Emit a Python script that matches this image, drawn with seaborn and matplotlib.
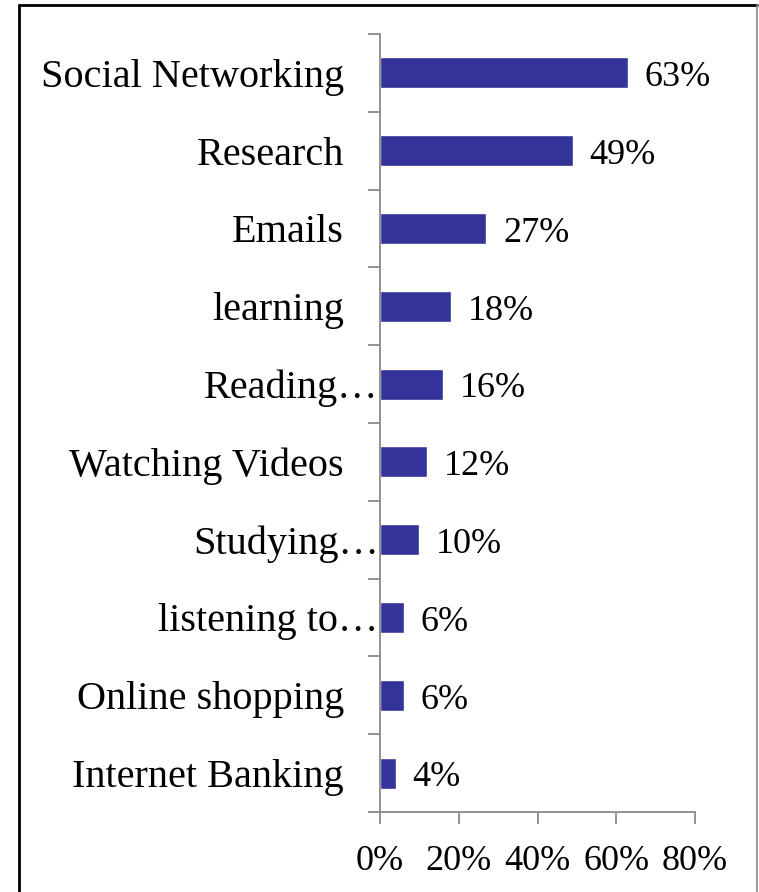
import matplotlib
matplotlib.use('Agg')
import matplotlib.pyplot as plt
import matplotlib.transforms as mtransforms
from matplotlib.lines import Line2D
from matplotlib.ticker import FuncFormatter
import numpy as np
import pandas as pd
import seaborn as sns

categories = ['Social Networking', 'Research', 'Emails', 'learning', 'Reading\u2026',
              'Watching Videos', 'Studying\u2026', 'listening to\u2026', 'Online shopping',
              'Internet Banking']
values = [63, 49, 27, 18, 16, 12, 10, 6, 6, 4]
xticks = [0, 20, 40, 60, 80]

df = pd.DataFrame({'activity': categories, 'share': values})

sns.set_style('white')
plt.rcParams['font.family'] = ['Liberation Serif', 'DejaVu Serif']
plt.rcParams['text.color'] = 'black'
plt.rcParams['xtick.labelcolor'] = 'black'
plt.rcParams['ytick.labelcolor'] = 'black'

fig = plt.figure(figsize=(7.59, 8.92), dpi=100)
ax = fig.add_axes([0.5007, 0.0897, 0.415, 0.8722])

sns.barplot(data=df, x='share', y='activity', orient='h', color='#333399',
            saturation=1, width=0.4, ax=ax)

labs = ax.bar_label(ax.containers[0], labels=[f'{v}%' for v in values], padding=12,
                    fontsize=26, color='black')
# nudge data labels a little lower, like the reference
for t in labs:
    x, y = t.xyann
    t.xyann = (x, y - 3.5)

grey = '#898989'
ax.set_xlim(0, 80)
ax.set_ylim(9.5, -0.5)
ax.set_xticks(xticks)
ax.xaxis.set_major_formatter(FuncFormatter(lambda v, p: f'{v:.0f}%'))
ax.tick_params(axis='x', direction='out', length=8.6, width=1.3, color=grey,
               labelsize=26, pad=15, bottom=True)

ax.set_yticks(np.arange(len(categories)))
ax.set_yticklabels(categories)
ax.set_yticks(np.arange(-0.5, len(categories), 1), minor=True)
ax.tick_params(axis='y', which='major', length=0, labelsize=29, pad=26)
ax.tick_params(axis='y', which='minor', direction='out', length=8.6, width=1.3,
               color=grey, left=True)

# truncated labels sit closer to the axis
shift = mtransforms.ScaledTranslation(25 / 72, 0, fig.dpi_scale_trans)
for lab in ax.get_yticklabels():
    if lab.get_text().endswith('\u2026'):
        lab.set_transform(lab.get_transform() + shift)

ax.set_xlabel('')
ax.set_ylabel('')
for s in ['top', 'right']:
    ax.spines[s].set_visible(False)
for s in ['left', 'bottom']:
    ax.spines[s].set_color(grey)
    ax.spines[s].set_linewidth(1.3)

# outer frame
fig.add_artist(Line2D([19 / 759, 19 / 759], [0, 1 - 5 / 892], color='black', lw=2,
                      transform=fig.transFigure))
fig.add_artist(Line2D([19 / 759, 757 / 759], [1 - 5 / 892, 1 - 5 / 892], color='black',
                      lw=2, transform=fig.transFigure))
fig.add_artist(Line2D([757 / 759, 757 / 759], [0, 1 - 5 / 892], color=grey, lw=1.2,
                      transform=fig.transFigure))

fig.savefig('out.png', dpi=100)
